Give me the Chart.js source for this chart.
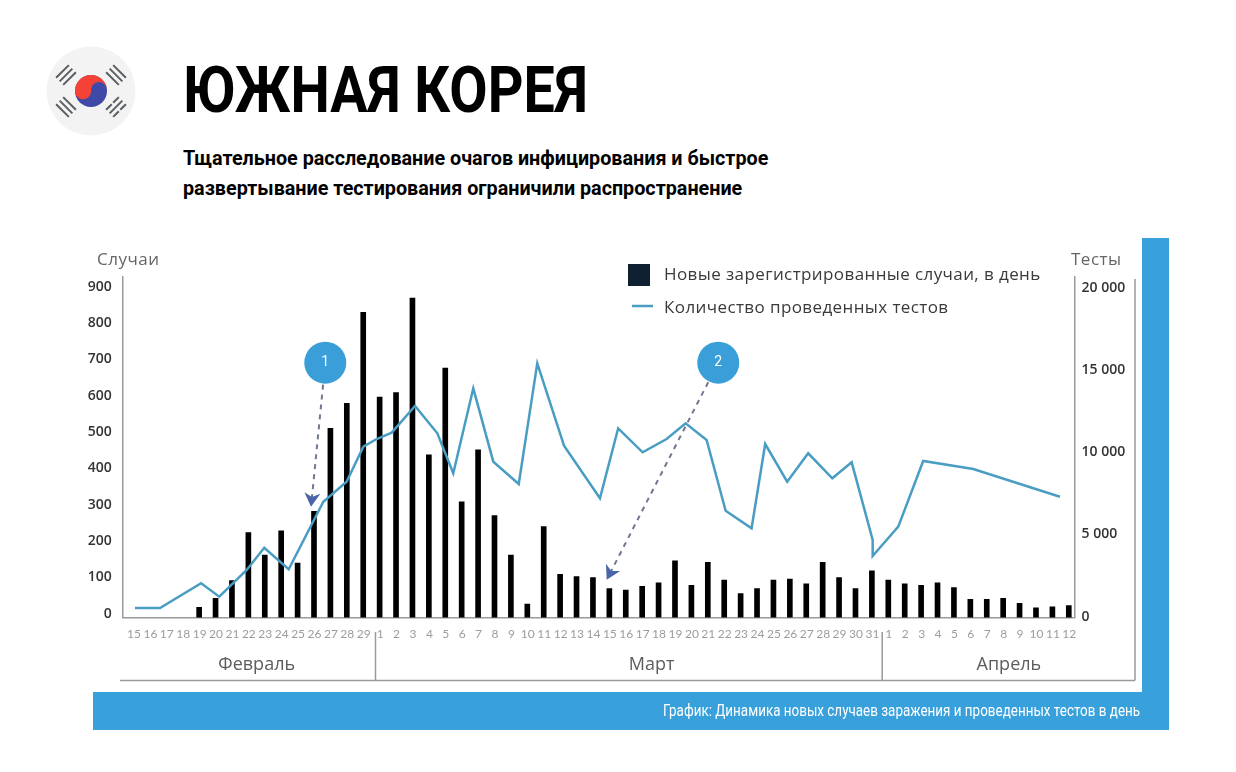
<!DOCTYPE html>
<html lang="ru">
<head>
<meta charset="utf-8">
<title>Южная Корея</title>
<script src="https://cdn.jsdelivr.net/npm/chart.js@4"></script>
<style>
html, body { margin: 0; padding: 0; background: #fff; }
body { width: 1236px; height: 772px; position: relative; overflow: hidden; font-family: Roboto, sans-serif; }
#page > * { position: absolute; }
#barRight { left: 1142px; top: 238px; width: 27px; height: 460px; background: #38a1dc; }
#barBottom { left: 93px; top: 692px; width: 1076px; height: 38px; background: #38a1dc; }
#title { left: 183px; top: 52px; margin: 0; font-size: 65px; line-height: 76px; font-weight: 700; color: #000; white-space: nowrap; transform: scaleX(.855); transform-origin: left top; }
.sub { left: 183px; margin: 0; font-size: 21px; line-height: 28px; font-weight: 700; color: #000; white-space: nowrap; transform: scaleX(.94); transform-origin: left top; }
#caption { right: 96px; top: 701px; font-size: 16px; line-height: 20px; color: #fff; white-space: nowrap; transform: scaleX(.84); transform-origin: right top; }
#flag { left: 46px; top: 46px; }
#myChart { left: 0; top: 0; }
</style>
</head>
<body>
<div id="page">
  <div id="barRight"></div>
  <div id="barBottom"></div>
  <svg id="flag" width="90" height="90" viewBox="-45 -45 90 90">
    <circle r="44.5" fill="#f3f3f3"/>
    <circle r="16" fill="#3f4aa8"/>
    <path d="M-15.9 2 A16 16 0 0 1 15.9 -2 A8 8 0 0 0 0 -2 A8 8 0 0 1 -15.9 2Z" fill="#f44336"/>
    <g stroke="#5a5f63" stroke-width="2">
      <g transform="translate(-25 -16) rotate(-45)"><path d="M-9 -5H9M-9 0H9M-9 5H9"/></g>
      <g transform="translate(25 -16) rotate(45)"><path d="M-9 -5H9M-9 0H9M-9 5H9"/></g>
      <g transform="translate(-25 16) rotate(45)"><path d="M-9 -5H9M-9 0H9M-9 5H9"/></g>
      <g transform="translate(25 16) rotate(-45)"><path d="M-9 -5H-1M1 -5H9M-9 0H9M-9 5H-1M1 5H9"/></g>
    </g>
  </svg>
  <h1 id="title">ЮЖНАЯ КОРЕЯ</h1>
  <p class="sub" style="top:144px">Тщательное расследование очагов инфицирования и быстрое</p>
  <p class="sub" style="top:174px">развертывание тестирования ограничили распространение</p>
  <canvas id="myChart" width="1236" height="772"></canvas>
  <div id="caption">График: Динамика новых случаев заражения и проведенных тестов в день</div>
</div>

<script>
// дни
const febDays = [15,16,17,18,19,20,21,22,23,24,25,26,27,28,29]
const marDays = [1,2,3,4,5,6,7,8,9,10,11,12,13,14,15,16,17,18,19,20,21,22,23,24,25,26,27,28,29,30,31]
const aprDays = [1,2,3,4,5,6,7,8,9,10,11,12]
const categories = [...febDays, ...marDays, ...aprDays].map(String)

// новые случаи в день
const febCases = [null,null,null,null,28,53,102,234,172,239,150,293,521,590,841]
const marCases = [607,620,880,448,687,319,462,281,172,37,251,119,113,110,80,76,86,96,156,89,152,103,66,80,103,106,93,152,110,80,129]
const aprCases = [103,93,89,96,83,50,50,53,39,27,30,33]
const caseValues = [...febCases, ...marCases, ...aprCases]

// тесты: линия в оригинале не попадает точно на дни, поэтому день дробный
const testDays = [0.24,1.77,4.27,5.38,7.05,8.12,9.61,11.72,13.14,14.16,14.97,15.89,17.31,18.67,19.64,20.86,22.08,23.63,24.76,26.39,28.58,29.69,31.18,32.64,33.8,35.08,36.24,37.82,38.65,39.99,41.27,42.74,43.92,45.2,45.2,46.76,48.28,51.33,56.61]
const testValues = [584,584,2088,1272,2897,4254,2940,7054,8271,10402,10870,11254,12879,11217,8783,13956,9489,8131,15478,10463,7261,11522,10061,10870,11826,10809,6506,5435,10566,8271,10000,8478,9452,4723,3749,5533,9531,9044,7358]
const testTicks = [0,5000,10000,15000,20000]

const monthNames = ['Февраль', 'Март', 'Апрель']
const monthCenters = [7.66, 31.73, 53.5]
const monthBreaks = [14.9, 45.78]

const calloutLabels = ['1', '2']
const calloutDays = [11.84, 35.79]
const calloutCases = [702, 702]
const calloutTipDays = [10.97, 28.99]
const calloutTipCases = [305, 104]

const casesLabel = 'Новые зарегистрированные случаи, в день'
const testsLabel = 'Количество проведенных тестов'

const gray = '#9a9a9a'
const blue = '#3a9fd8'
const lineBlue = '#4a9dc2'

// всё что вокруг графика: легенда, подписи осей, месяцы, выноски
const extras = {
    id: 'extras',
    afterDatasetsDraw(chart) {
        const c = chart.ctx
        const xs = chart.scales.xLine
        const y = chart.scales.y
        c.save()

        // рамка снизу и справа
        c.strokeStyle = gray
        c.lineWidth = 1.5
        c.beginPath()
        c.moveTo(120, 680.5); c.lineTo(1135, 680.5)
        c.moveTo(1135, 279); c.lineTo(1135, 680.5)
        monthBreaks.forEach(d => {
            const px = xs.getPixelForValue(d)
            c.moveTo(px, 632); c.lineTo(px, 680.5)
        })
        c.stroke()

        // месяцы
        c.fillStyle = '#5c5c5c'
        c.font = '18px "Open Sans"'
        c.textAlign = 'center'
        c.textBaseline = 'middle'
        monthNames.forEach((m, i) => c.fillText(m, xs.getPixelForValue(monthCenters[i]), 665))

        // подписи осей
        c.fillStyle = '#666'
        c.font = '17px "Open Sans"'
        c.letterSpacing = '0.5px'
        c.textAlign = 'left'
        c.fillText('Случаи', 97, 260)
        c.fillText('Тесты', 1071, 260)

        // легенда
        c.fillStyle = '#0f2030'
        c.fillRect(628, 264, 22, 22)
        c.strokeStyle = lineBlue
        c.lineWidth = 2.5
        c.beginPath(); c.moveTo(632, 306); c.lineTo(653, 306); c.stroke()
        c.fillStyle = '#3a3a3a'
        c.letterSpacing = '0.4px'
        c.fillText(casesLabel, 664, 275)
        c.fillText(testsLabel, 664, 308)
        c.letterSpacing = '0px'

        // выноски
        calloutLabels.forEach((label, i) => {
            const cx = xs.getPixelForValue(calloutDays[i])
            const cy = y.getPixelForValue(calloutCases[i])
            const tx = xs.getPixelForValue(calloutTipDays[i])
            const ty = y.getPixelForValue(calloutTipCases[i])
            const a = Math.atan2(ty - cy, tx - cx)

            c.strokeStyle = '#6f7790'
            c.lineWidth = 2
            c.setLineDash([5, 5])
            c.beginPath()
            c.moveTo(cx + Math.cos(a) * 22, cy + Math.sin(a) * 22)
            c.lineTo(tx - Math.cos(a) * 9, ty - Math.sin(a) * 9)
            c.stroke()
            c.setLineDash([])

            // стрелка
            c.save()
            c.translate(tx, ty)
            c.rotate(a)
            c.fillStyle = '#4a66a8'
            c.beginPath()
            c.moveTo(0, 0)
            c.lineTo(-14, -8)
            c.lineTo(-10, 0)
            c.lineTo(-14, 8)
            c.closePath()
            c.fill()
            c.restore()

            c.fillStyle = blue
            c.beginPath()
            c.arc(cx, cy, 21, 0, Math.PI * 2)
            c.fill()
            c.fillStyle = '#fff'
            c.font = '14px Roboto'
            c.textAlign = 'center'
            c.fillText(label, cx, cy)
        })
        c.restore()
    }
}

let ctx = document.getElementById('myChart').getContext('2d')
let myChart = new Chart(ctx, {
    type: 'bar',
    data: {
        labels: categories,
        datasets: [{
            type: 'line',
            label: testsLabel,
            data: testDays.map((d, i) => ({ x: d, y: testValues[i] })),
            xAxisID: 'xLine',
            yAxisID: 'yTests',
            borderColor: lineBlue,
            borderWidth: 2.5,
            pointRadius: 0,
            tension: 0,
            order: 0
        }, {
            label: casesLabel,
            data: caseValues,
            backgroundColor: '#000',
            barThickness: 5,
            order: 1
        }]
    },
    plugins: [extras],
    options: {
        responsive: false,
        animation: false,
        layout: { padding: { top: 277 } },
        plugins: { legend: { display: false }, tooltip: { enabled: false } },
        scales: {
            x: {
                grid: { display: false, drawTicks: false },
                border: { color: gray, width: 1.5 },
                ticks: { autoSkip: false, maxRotation: 0, padding: 9, labelOffset: 3, color: '#9c9c9c', font: { family: 'Lato', size: 12 } },
                afterFit(s) { s.height = 154.4 }
            },
            xLine: { type: 'linear', display: false, offset: false, min: -0.5, max: 57.5 },
            y: {
                min: 0,
                max: 938,
                grid: { display: false, drawTicks: false },
                border: { color: gray, width: 1.5 },
                ticks: { stepSize: 100, includeBounds: false, padding: 11, labelOffset: -4, color: '#333', font: { family: 'Open Sans', size: 14, weight: '600' } },
                afterFit(s) { s.width = 122.8 }
            },
            yTests: {
                position: 'right',
                min: 0,
                max: 20730,
                grid: { display: false, drawTicks: false },
                border: { color: gray, width: 1.5 },
                afterBuildTicks(s) { s.ticks = testTicks.map(v => ({ value: v })) },
                ticks: {
                    padding: 7,
                    labelOffset: -1,
                    color: '#333',
                    font: { family: 'Open Sans', size: 14, weight: '600' },
                    callback: v => String(v).replace(/\B(?=(\d{3})+$)/, ' ')
                },
                afterFit(s) { s.width = 161.5 }
            }
        }
    }
})
</script>
</body>
</html>
